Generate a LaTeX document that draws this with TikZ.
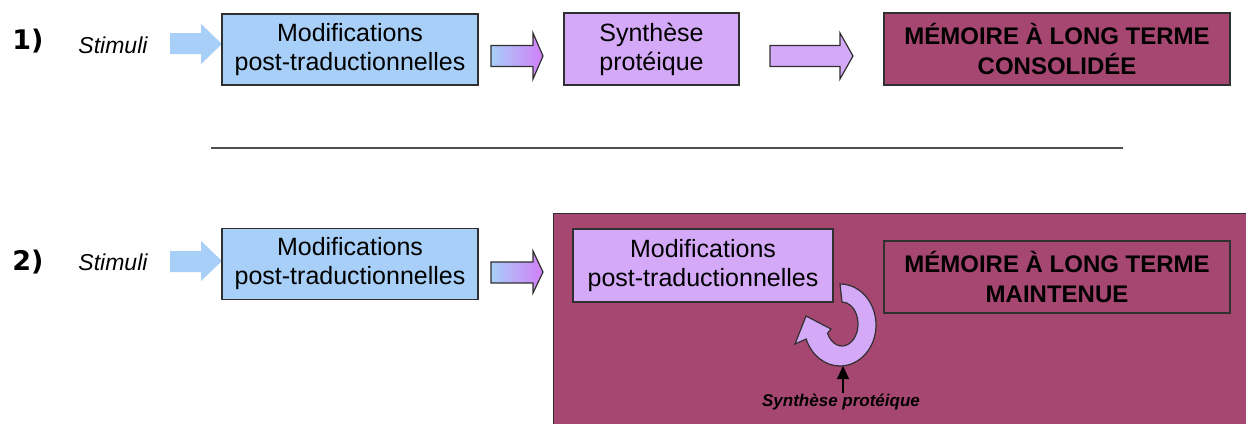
\documentclass[tikz,border=0pt]{standalone}
\usepackage{fontspec}
\setmainfont{Liberation Sans}
\newfontfamily\numfont{DejaVu Sans}
\usetikzlibrary{arrows.meta}
\definecolor{cblue}{HTML}{A7CFF8}
\definecolor{cpurple}{HTML}{D4A9F8}
\definecolor{cviolet}{HTML}{D37EF8}
\definecolor{cmag}{HTML}{A54771}
\definecolor{cline}{HTML}{303030}
\begin{document}
\begin{tikzpicture}[x=1pt,y=-1pt,
  box/.style={draw=cline, line width=1.2pt, inner sep=0pt, align=center},
  txt/.style={font=\fontsize{25}{29}\selectfont},
  memtxt/.style={font=\bfseries\fontsize{24}{30}\selectfont},
  numlab/.style={font=\numfont\bfseries\fontsize{27}{30}\selectfont},
  stim/.style={font=\itshape\fontsize{23}{26}\selectfont},
  barrow/.style={draw=cline, line width=1.2pt}]
\useasboundingbox (0,0) rectangle (1246,423);
\clip (0,0) rectangle (1246,423);

% ---------- row 1 ----------
\node[numlab] (n1) at (28,41) {1)};
\node[stim] (s1) at (113,45) {Stimuli};
\fill[cblue] (170,33) -- (201,33) -- (201,24) -- (222,44) -- (201,64) -- (201,54) -- (170,54) -- cycle;
\node[box, txt, fill=cblue, minimum width=256pt, minimum height=71pt] (m1) at (350,49.5)
  {Modifications\\post-traductionnelles};
\path[barrow, left color=cblue, right color=cviolet]
  (491,45.5) -- (533,45.5) -- (533,33) -- (543,56) -- (533,79) -- (533,66.5) -- (491,66.5) -- cycle;
\node[box, txt, fill=cpurple, minimum width=175pt, minimum height=72pt] (p1) at (651.5,49)
  {Synthèse\\protéique};
\path[barrow, fill=cpurple]
  (770,45.5) -- (840,45.5) -- (840,33) -- (853,56) -- (840,79) -- (840,66.5) -- (770,66.5) -- cycle;
\node[box, memtxt, fill=cmag, minimum width=346pt, minimum height=72pt] (mem1) at (1057,49)
  {MÉMOIRE À LONG TERME\\CONSOLIDÉE};

% separator
\coordinate (la) at (211,148);
\coordinate (lb) at (1123,148);
\draw[cline!85, line width=1.3pt] (la) -- (lb);

% ---------- row 2 ----------
\node[numlab] (n2) at (28,262) {2)};
\node[stim] (s2) at (113,262) {Stimuli};
\fill[cblue] (170,251) -- (201,251) -- (201,241) -- (222,261) -- (201,281) -- (201,272) -- (170,272) -- cycle;
\node[box, txt, fill=cblue, minimum width=256pt, minimum height=71pt] (m2) at (350,264)
  {Modifications\\post-traductionnelles};
\path[barrow, left color=cblue, right color=cviolet]
  (491,262) -- (533,262) -- (533,251) -- (543,272) -- (533,293) -- (533,283) -- (491,283) -- cycle;
\node[box, fill=cmag, anchor=north west, minimum width=720pt, minimum height=240pt] (big) at (553,213) {};
\node[box, txt, fill=cpurple, minimum width=260pt, minimum height=73pt] (m3) at (703,265.5)
  {Modifications\\post-traductionnelles};
\node[box, memtxt, minimum width=346pt, minimum height=72pt] (mem2) at (1057,277)
  {MÉMOIRE À LONG TERME\\MAINTENUE};

% circular arrow
\path[barrow, fill=cpurple]
  (840,284) arc[start angle=-90, end angle=160, x radius=36, y radius=41]
  -- (795,344) -- (806,316) -- (831,329) -- (827.5,333.3)
  arc[start angle=155, end angle=-90, x radius=16, y radius=22]
  -- cycle;

\node[font=\bfseries\itshape\fontsize{17}{20}\selectfont, inner sep=1pt] (lab) at (841,402) {Synthèse protéique};
\coordinate (arcbot) at (843,366);
\draw[black, line width=1.2pt, -{Triangle[width=12pt,length=13pt]}] (lab.north -| arcbot) -- (arcbot);
\end{tikzpicture}
\end{document}
